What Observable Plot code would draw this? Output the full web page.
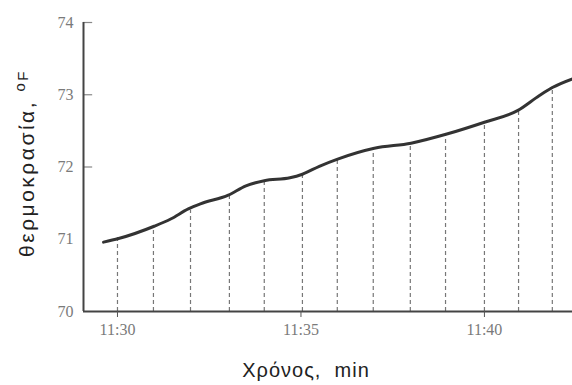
<!DOCTYPE html>
<html>
<head>
<meta charset="utf-8">
<script src="https://cdn.jsdelivr.net/npm/d3@7"></script>
<script src="https://cdn.jsdelivr.net/npm/@observablehq/plot@0.6"></script>
<style>
  html, body { margin: 0; padding: 0; background: #fff; }
  #chart svg { display: block; }
</style>
</head>
<body>
<div id="chart"></div>
<script>
// Temperature curve (minutes after 11:00, °F)
const curveTime = [29.62, 30.03, 31, 31.45, 31.93, 32.26, 33.02, 33.5, 34, 34.7, 35.04, 35.5, 36, 37, 38, 39, 40, 40.9, 41.5, 41.85, 42.4];
const curveTemp = [70.96, 71.01, 71.18, 71.28, 71.42, 71.49, 71.61, 71.74, 71.81, 71.85, 71.90, 72.01, 72.11, 72.26, 72.33, 72.46, 72.62, 72.78, 72.99, 73.10, 73.22];

// Dashed drop lines (reading instants)
const dropTime = [30, 30.98, 31.99, 33.05, 34.0, 35.04, 35.99, 36.97, 37.98, 38.94, 40.0, 40.93, 41.85];
const dropTemp = [71.03, 71.18, 71.40, 71.62, 71.81, 71.90, 72.11, 72.26, 72.33, 72.46, 72.62, 72.78, 73.10];

// Axis ticks
const xTicks = [30, 35, 40];
const xTickLabels = ["11:30", "11:35", "11:40"];
const yTicks = [70, 71, 72, 73, 74];
const yTickLabels = ["70", "71", "72", "73", "74"];
const yInnerTicks = [72, 73, 74];

const xDomain = [29.074, 42.4];
const yDomain = [70, 74];

const curve = curveTime.map((t, i) => ({t, v: curveTemp[i]}));
const drops = dropTime.map((t, i) => ({t, v: dropTemp[i]}));

const chart = Plot.plot({
  width: 572,
  height: 385,
  marginLeft: 83,
  marginRight: 0,
  marginTop: 22,
  marginBottom: 74,
  style: {background: "#fff", overflow: "visible"},
  x: {domain: xDomain, label: null},
  y: {domain: yDomain, label: null},
  marks: [
    Plot.ruleX(drops, {x: "t", y1: 70, y2: "v", stroke: "#777", strokeWidth: 1.2, strokeDasharray: "4,3"}),
    Plot.ruleY(yInnerTicks, {x1: xDomain[0], x2: xDomain[0] + 0.25, stroke: "#888", strokeWidth: 1.2}),
    Plot.ruleY([70], {stroke: "#444", strokeWidth: 2}),
    Plot.ruleX([xDomain[0]], {y1: 70, y2: 74, stroke: "#444", strokeWidth: 2}),
    Plot.axisX({ticks: xTicks, tickFormat: (d) => xTickLabels[xTicks.indexOf(d)], tickSize: 6, tickPadding: 6,
      fontSize: 16, fontFamily: "Liberation Serif, Times New Roman, serif", fill: "#7a7a7a", stroke: "#555", label: null}),
    Plot.axisY({ticks: yTicks, tickFormat: (d) => yTickLabels[yTicks.indexOf(d)], tickSize: 0, tickPadding: 10,
      fontSize: 16, fontFamily: "Liberation Serif, Times New Roman, serif", fill: "#7a7a7a", label: null}),
    Plot.line(curve, {x: "t", y: "v", stroke: "#333", strokeWidth: 3, curve: "monotone-x"})
  ]
});

document.getElementById("chart").appendChild(chart);

const svg = d3.select(chart);
// x axis title
svg.append("text")
  .attr("x", 306).attr("y", 377)
  .attr("text-anchor", "middle")
  .attr("font-family", "Liberation Sans, Arial, sans-serif")
  .attr("font-size", 20)
  .attr("fill", "#222")
  .attr("letter-spacing", 1)
  .text("Χρόνος,  min");

// y axis title
const yl = svg.append("text")
  .attr("transform", "translate(34,163) rotate(-90)")
  .attr("text-anchor", "middle")
  .attr("font-family", "Liberation Sans, Arial, sans-serif")
  .attr("font-size", 21)
  .attr("fill", "#222")
  .attr("letter-spacing", 2.5);
yl.append("tspan").text("θερμοκρασία, ");
yl.append("tspan").attr("dy", -9).attr("font-size", 15).text("o");
yl.append("tspan").attr("dy", 3).attr("font-size", 15).text("F");
</script>
</body>
</html>
